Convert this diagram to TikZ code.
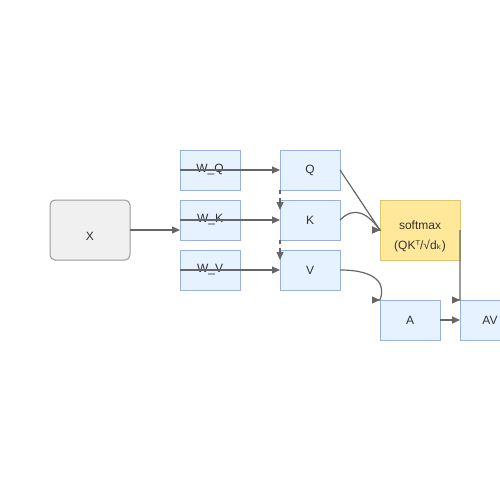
\documentclass[tikz,border=0pt]{standalone}
\usepackage{fontspec}
\setmainfont{Liberation Sans}
\newfontfamily\symfont{DejaVu Sans}
\usetikzlibrary{arrows.meta}
\definecolor{boxfill}{HTML}{E6F2FF}
\definecolor{boxline}{HTML}{8AB6EE}
\definecolor{inputfill}{HTML}{F0F0F0}
\definecolor{inputline}{HTML}{9A9A9A}
\definecolor{softfill}{HTML}{FFE89A}
\definecolor{softline}{HTML}{E8C84A}
\definecolor{edgegray}{HTML}{666666}
\begin{document}
\begin{tikzpicture}[
        x=1pt, y=-1pt,
        every node/.style={font=\fontsize{12}{20}\selectfont, text=black!80, outer sep=0pt},
        matbox/.style={draw=boxline, fill=boxfill, line width=1pt, minimum width=60pt, minimum height=40pt, inner sep=0pt},
        inputbox/.style={draw=inputline, fill=inputfill, line width=1pt, rounded corners=5pt, minimum width=80pt, minimum height=60pt, inner sep=0pt},
        softbox/.style={draw=softline, fill=softfill, line width=1pt, minimum width=80pt, minimum height=60pt, inner sep=0pt, align=center},
        edge/.style={draw=edgegray, line width=1.2pt, -{Triangle[length=8pt,width=7pt]}},
        dashedge/.style={edge, dashed, dash pattern=on 4pt off 4pt}
    ]
    \useasboundingbox (0,0) rectangle (500,500);
    % input and weights
    \node[inputbox, label={[yshift=-6pt]center:X}] (x) at (90,230) {};
    \node[matbox] (wq) at (210,170) {W\_Q};
    \node[matbox] (wk) at (210,220) {W\_K};
    \node[matbox] (wv) at (210,270) {W\_V};
    % projections
    \node[matbox] (q) at (310,170) {Q};
    \node[matbox] (k) at (310,220) {K};
    \node[matbox] (v) at (310,270) {V};
    % attention
    \node[softbox, label={[yshift=-6pt, align=center]center:softmax\\(QK{\symfont ᵀ}/√d{\symfont ₖ})}] (soft) at (420,230) {};
    \node[matbox] (a) at (410,320) {A};
    \node[matbox] (av) at (490,320) {AV};

    \draw[edge] (x.east) -- (x.east -| wk.west);
    \draw[edge] (wq.west) -- (q.west);
    \draw[edge] (wk.west) -- (k.west);
    \draw[edge] (wv.west) -- (v.west);
    \draw[dashedge] (q.south west) -- ([yshift=-10pt]k.north west);
    \draw[dashedge] (k.south west) -- ([yshift=-10pt]v.north west);
    % heads drawn level, as in the source
    \draw[edge] (q.east) -- ([xshift=-0.1pt]soft.west) -- (soft.west);
    \draw[edge] (k.east) .. controls (355,205) and (368,214) .. ([xshift=-0.1pt]soft.west) -- (soft.west);
    \draw[edge] (v.east) .. controls (378,270) and (386,285) .. ([xshift=-0.1pt]a.north west) -- (a.north west);
    \draw[edge] (soft.east) -- ([xshift=-0.1pt]av.north west) -- (av.north west);
    \draw[edge] (a.east) -- (av.west);
\end{tikzpicture}
\end{document}
